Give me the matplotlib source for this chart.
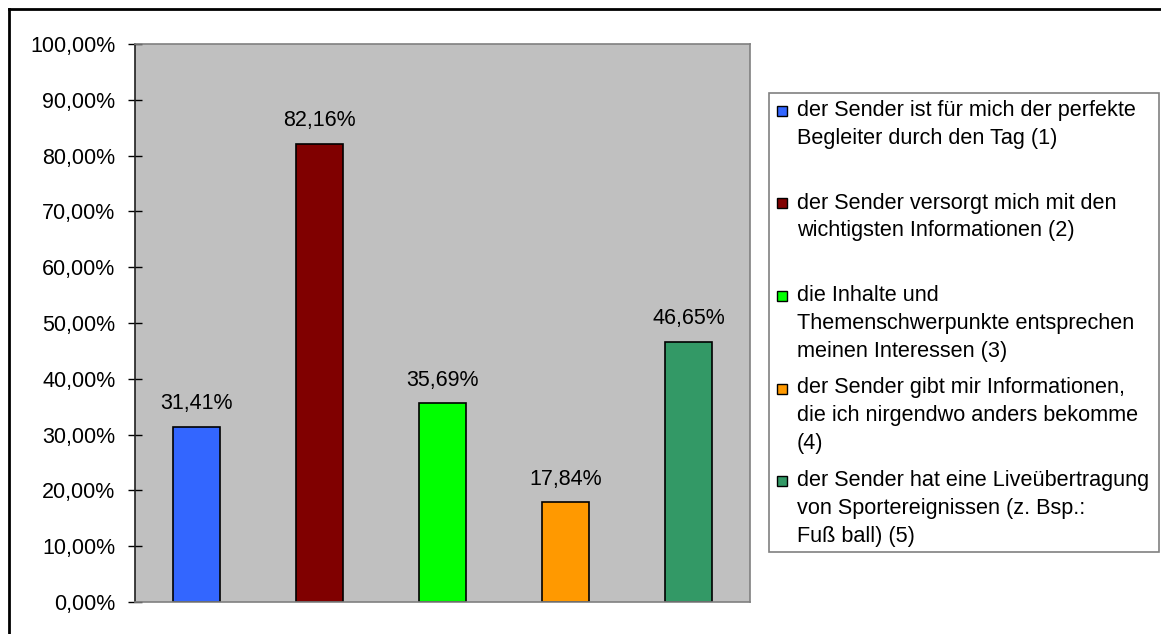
import matplotlib.pyplot as plt
from matplotlib.lines import Line2D
from matplotlib.patches import Rectangle
from matplotlib.ticker import FuncFormatter

plt.rcParams["font.family"] = ["Liberation Sans", "DejaVu Sans"]

# survey answers (share of respondents, in percent)
labels = [
    "der Sender ist für mich der perfekte\nBegleiter durch den Tag (1)",
    "der Sender versorgt mich mit den\nwichtigsten Informationen (2)",
    "die Inhalte und\nThemenschwerpunkte entsprechen\nmeinen Interessen (3)",
    "der Sender gibt mir Informationen,\ndie ich nirgendwo anders bekomme\n(4)",
    "der Sender hat eine Liveübertragung\nvon Sportereignissen (z. Bsp.:\nFuß ball) (5)",
]
values = [31.41, 82.16, 35.69, 17.84, 46.65]
colors = ["#3366FF", "#800000", "#00FF00", "#FF9900", "#339966"]

W, H = 1161, 634
fig = plt.figure(figsize=(W / 100, H / 100), dpi=100)
fig.patch.set_facecolor("white")


def fx(px):
    return px / W


def fy(py):
    return 1 - py / H


# plot area
ax = fig.add_axes([fx(135), fy(602), fx(750) - fx(135), fy(44) - fy(602)])
ax.set_facecolor("#C0C0C0")

x = range(len(values))
ax.bar(x, values, width=0.39, color=colors, edgecolor="black", linewidth=1.2, zorder=2)
for xi, v in zip(x, values):
    ax.text(xi, v + 2.2, f"{v:.2f}%".replace(".", ","), ha="center", va="bottom",
            fontsize=15.5)

ax.set_xlim(-0.5, len(values) - 0.5)
ax.set_ylim(0, 100)
ax.set_yticks(range(0, 101, 10))
ax.yaxis.set_major_formatter(FuncFormatter(lambda v, _: f"{v:.2f}%".replace(".", ",")))
ax.tick_params(axis="y", direction="inout", length=10, width=1, pad=9, labelsize=15.5)
ax.tick_params(axis="x", length=0, labelbottom=False)

for side in ["top", "right", "bottom"]:
    ax.spines[side].set_color("#808080")
    ax.spines[side].set_linewidth(1.2)
ax.spines["left"].set_color("#202020")
ax.spines["left"].set_linewidth(1.2)

# outer chart frame (runs past the right and bottom edges)
fig.add_artist(Line2D([fx(9), 1.0], [fy(9), fy(9)], color="black", linewidth=2))
fig.add_artist(Line2D([fx(9), fx(9)], [fy(9), 0.0], color="black", linewidth=2))

# legend box with equally spaced entries
fig.add_artist(Rectangle((fx(769), fy(552)), fx(1159) - fx(769), fy(93) - fy(552),
                         transform=fig.transFigure, facecolor="white",
                         edgecolor="#808080", linewidth=1.2))
entry_top = 100
entry_step = 92.5
for i, (lab, col) in enumerate(zip(labels, colors)):
    top = entry_top + i * entry_step
    fig.add_artist(Rectangle((fx(777), fy(top + 16)), fx(10), fy(0) - fy(10),
                             transform=fig.transFigure, facecolor=col,
                             edgecolor="black", linewidth=1))
    fig.text(fx(797), fy(top), lab, ha="left", va="top", fontsize=15.6,
             linespacing=1.43)

fig.savefig("out.png", dpi=100)
